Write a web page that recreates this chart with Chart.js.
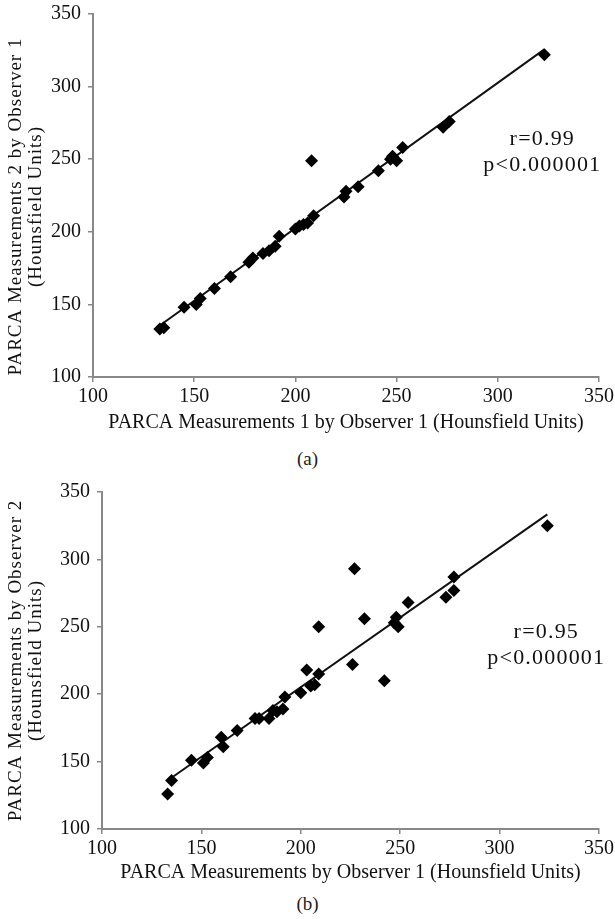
<!DOCTYPE html>
<html>
<head>
<meta charset="utf-8">
<script src="https://cdn.jsdelivr.net/npm/chart.js@4"></script>
<style>
  body { margin: 0; background: #fff; width: 615px; height: 919px; position: relative; overflow: hidden; font-family: "Liberation Serif", serif; }
  .box { position: absolute; left: 0; width: 615px; }
  .cap { position: absolute; left: 0; width: 615px; text-align: center; font-size: 19px; color: #222; }
</style>
</head>
<body>
<div class="box" style="top:0;height:440px"><canvas id="chartA"></canvas></div>
<div class="cap" style="top:448px">(a)</div>
<div class="box" style="top:478px;height:412px"><canvas id="chartB"></canvas></div>
<div class="cap" style="top:893px">(b)</div>
<script>
// (a) measurement 1 vs measurement 2, observer 1 (HU)
const meas1A = [133,135,145,151,153,160,168,177,179,184,187,190,192,200,202,204,206,208,209,224,225,231,241,247,248,250,253,273,276,323];
const meas2A = [133,134,148,150,154,161,169,179,182,185,187,190,197,202,204,205,206,249,211,224,228,231,242,250,252,249,258,272,276,322];
// (b) observer 1 vs observer 2 (HU)
const obs1B = [133,135,145,151,153,160,161,168,177,179,184,186,188,191,192,200,203,205,207,209,209,226,227,232,242,247,248,249,254,273,277,277,324];
const obs2B = [126,136,151,149,153,168,161,173,182,182,182,188,187,189,198,201,218,206,207,215,250,222,293,256,210,253,257,250,268,272,277,287,325];

const axisMin = 100, axisMax = 350, axisStep = 50;
const statsA = ['r=0.99', 'p<0.000001'];
const statsB = ['r=0.95', 'p<0.000001'];

Chart.defaults.font.family = '"Liberation Serif", serif';
Chart.defaults.color = '#111';

function pairs(xs, ys) {
  return xs.map((x, i) => ({ x: x, y: ys[i] }));
}

// least squares trend line over the data range
function trend(xs, ys) {
  const n = xs.length;
  const mx = xs.reduce((a, b) => a + b, 0) / n;
  const my = ys.reduce((a, b) => a + b, 0) / n;
  let sxy = 0, sxx = 0;
  for (let i = 0; i < n; i++) {
    sxy += (xs[i] - mx) * (ys[i] - my);
    sxx += (xs[i] - mx) * (xs[i] - mx);
  }
  const b = sxy / sxx, a = my - b * mx;
  const lo = Math.min(...xs), hi = Math.max(...xs);
  return [{ x: lo, y: a + b * lo }, { x: hi, y: a + b * hi }];
}

// r / p annotation and the two-line y title (spaced like the original figure)
const extraText = {
  id: 'extraText',
  afterDraw(chart, args, opts) {
    const c = chart.ctx;
    const sx = chart.scales.x, sy = chart.scales.y;
    c.save();
    c.fillStyle = '#111';
    c.textAlign = 'center';
    c.textBaseline = 'middle';
    c.font = '22px "Liberation Serif", serif';
    c.letterSpacing = '1.2px';
    const px = sx.getPixelForValue(opts.x);
    opts.lines.forEach((t, i) => {
      c.fillText(t, px, sy.getPixelForValue(opts.y) + i * 26);
    });
    c.restore();

    c.save();
    c.fillStyle = '#111';
    c.textAlign = 'center';
    c.textBaseline = 'middle';
    c.font = '19px "Liberation Serif", serif';
    c.letterSpacing = '1px';
    const cy = (chart.chartArea.top + chart.chartArea.bottom) / 2 + opts.yShift;
    opts.yTitle.forEach((t, i) => {
      c.save();
      c.translate(16 + i * 20, cy);
      c.rotate(-Math.PI / 2);
      c.fillText(t, 0, 0);
      c.restore();
    });
    c.restore();
  }
};

function makeChart(id, xs, ys, cfg) {
  return new Chart(document.getElementById(id), {
    type: 'scatter',
    data: {
      datasets: [{
        data: pairs(xs, ys),
        pointStyle: 'rectRot',
        pointRadius: 6.5,
        pointHoverRadius: 6.5,
        backgroundColor: '#000',
        borderColor: '#000',
        borderWidth: 0
      }, {
        data: trend(xs, ys),
        showLine: true,
        pointRadius: 0,
        borderColor: '#111',
        borderWidth: 2
      }]
    },
    options: {
      responsive: true,
      maintainAspectRatio: false,
      animation: false,
      layout: { padding: { top: cfg.top, right: cfg.right, left: 0, bottom: 0 } },
      plugins: {
        legend: { display: false },
        tooltip: { enabled: false },
        extraText: { x: cfg.statX, y: cfg.statY, lines: cfg.stats, yTitle: cfg.yTitle, yShift: cfg.yShift }
      },
      scales: {
        x: {
          min: axisMin, max: axisMax,
          ticks: { stepSize: axisStep, font: { size: 20 }, padding: 3, color: '#111' },
          grid: { drawOnChartArea: false, drawTicks: true, tickLength: 5, color: '#888', lineWidth: 1.5 },
          border: { color: '#888', width: 2 },
          title: { display: true, text: cfg.xTitle, font: { size: 20 }, padding: { top: 0, bottom: 5 }, color: '#111' },
          afterFit(s) { s.height = cfg.xH; s.paddingLeft = 0; s.paddingRight = 0; }
        },
        y: {
          min: axisMin, max: axisMax,
          ticks: { stepSize: axisStep, font: { size: 20 }, padding: 7, color: '#111' },
          grid: { drawOnChartArea: false, drawTicks: true, tickLength: 5, color: '#888', lineWidth: 1.5 },
          border: { color: '#888', width: 2 },
          afterFit(s) { s.width = cfg.yW; s.paddingTop = 0; s.paddingBottom = 0; }
        }
      }
    },
    plugins: [extraText]
  });
}

makeChart('chartA', meas1A, meas2A, {
  top: 14, right: 16, xH: 63, yW: 93,
  xTitle: 'PARCA Measurements 1 by Observer 1 (Hounsfield Units)',
  yTitle: ['PARCA Measurements 2 by Observer 1', '(Hounsfield Units)'],
  yShift: 11,
  statX: 322, statY: 264, stats: statsA
});

makeChart('chartB', obs1B, obs2B, {
  top: 14, right: 16, xH: 61, yW: 102,
  xTitle: 'PARCA Measurements by Observer 1 (Hounsfield Units)',
  yTitle: ['PARCA Measurements by Observer 2', '(Hounsfield Units)'],
  yShift: 0,
  statX: 323.5, statY: 245.7, stats: statsB
});
</script>
</body>
</html>
